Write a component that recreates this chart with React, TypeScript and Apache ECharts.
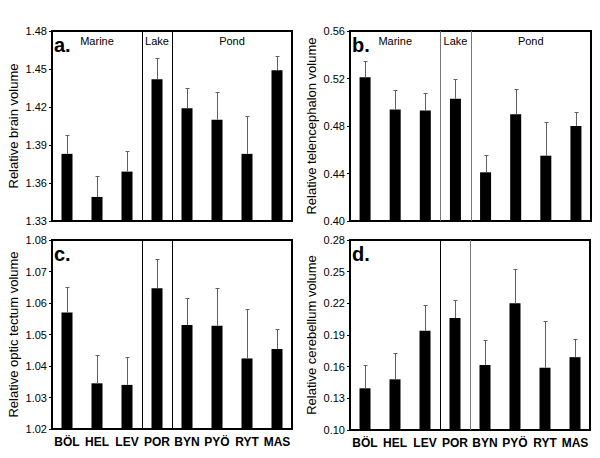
import React, { useEffect, useRef } from "react";
import * as echarts from "echarts";

const categories = ["BÖL", "HEL", "LEV", "POR", "BYN", "PYÖ", "RYT", "MAS"];

const groupNames = ["Marine", "Lake", "Pond"];
const groupStarts = [0, 3, 4];
const groupEnds = [2, 3, 7];

const brainMean = [1.383, 1.349, 1.369, 1.442, 1.419, 1.41, 1.383, 1.449];
const brainUpper = [1.398, 1.3655, 1.385, 1.459, 1.435, 1.432, 1.413, 1.46];

const teleMean = [0.521, 0.494, 0.493, 0.503, 0.441, 0.49, 0.455, 0.48];
const teleUpper = [0.535, 0.51, 0.508, 0.52, 0.456, 0.511, 0.483, 0.492];

const tectumMean = [1.057, 1.0345, 1.034, 1.0647, 1.053, 1.0528, 1.0424, 1.0454];
const tectumUpper = [1.065, 1.0435, 1.043, 1.074, 1.0616, 1.0647, 1.0582, 1.0516];

const cereMean = [0.1395, 0.148, 0.194, 0.206, 0.1616, 0.22, 0.159, 0.169];
const cereUpper = [0.162, 0.173, 0.218, 0.223, 0.185, 0.253, 0.203, 0.186];

const panelLetters = ["a.", "b.", "c.", "d."];
const panelNames = [
  "Relative brain volume",
  "Relative telencephalon volume",
  "Relative optic tectum volume",
  "Relative cerebellum volume",
];
const panelMins = [1.33, 0.4, 1.02, 0.1];
const panelMaxs = [1.48, 0.56, 1.08, 0.28];
const panelIntervals = [0.03, 0.04, 0.01, 0.03];
const panelMeans = [brainMean, teleMean, tectumMean, cereMean];
const panelUppers = [brainUpper, teleUpper, tectumUpper, cereUpper];

const FONT = "'Liberation Sans', Arial, sans-serif";

const gridLayout = [
  { left: 52, top: 31, width: 240, height: 190 },
  { left: 350, top: 31, width: 241, height: 190 },
  { left: 52, top: 240, width: 240, height: 189 },
  { left: 350, top: 240, width: 240, height: 190 },
];
const dividerColors = [
  ["#000", "#000"],
  ["#777", "#777"],
  ["#000", "#000"],
  ["#000", "#777"],
];
const showGroupLabels = [true, true, false, false];
const showCatLabels = [false, false, true, true];

export default function App() {
  const ref = useRef<HTMLDivElement>(null);
  useEffect(() => {
    if (!ref.current) return;
    const chart = echarts.init(ref.current, null, { renderer: "svg" });

    const grids: any[] = [];
    const xAxes: any[] = [];
    const yAxes: any[] = [];
    const series: any[] = [];
    const graphics: any[] = [];

    for (let i = 0; i < 4; i++) {
      const g = gridLayout[i];
      grids.push({
        ...g,
        show: true,
        borderColor: "#000",
        borderWidth: 2,
        backgroundColor: "transparent",
      });
      xAxes.push({
        type: "category",
        gridIndex: i,
        data: categories,
        axisLine: { show: false },
        axisTick: { show: false },
        axisLabel: {
          show: showCatLabels[i],
          interval: 0,
          color: "#000",
          fontFamily: FONT,
          fontSize: 12,
          fontWeight: "bold",
          margin: 7,
        },
        splitLine: { show: false },
      });
      yAxes.push({
        type: "value",
        gridIndex: i,
        min: panelMins[i],
        max: panelMaxs[i],
        interval: panelIntervals[i],
        axisLine: { show: false },
        axisTick: { show: true, length: 3, lineStyle: { color: "#000" } },
        axisLabel: {
          color: "#000",
          fontFamily: FONT,
          fontSize: 11,
          margin: 5,
          formatter: (v: number) => v.toFixed(2),
        },
        splitLine: { show: false },
        name: panelNames[i],
        nameLocation: "middle",
        nameGap: 32,
        nameTextStyle: { color: "#000", fontFamily: FONT, fontSize: 13 },
      });
      series.push({
        type: "bar",
        xAxisIndex: i,
        yAxisIndex: i,
        data: panelMeans[i],
        barWidth: 11,
        itemStyle: { color: "#000" },
        z: 2,
      });
      const means = panelMeans[i];
      const uppers = panelUppers[i];
      series.push({
        type: "custom",
        xAxisIndex: i,
        yAxisIndex: i,
        z: 3,
        data: means.map((m, k) => [k, m, uppers[k]]),
        renderItem: (params: any, api: any) => {
          const base = api.coord([api.value(0), api.value(1)]);
          const top = api.coord([api.value(0), api.value(2)]);
          const x = Math.round(base[0]) + 0.5;
          const yt = Math.round(top[1]) + 0.5;
          return {
            type: "group",
            children: [
              {
                type: "line",
                shape: { x1: x, y1: base[1], x2: x, y2: yt },
                style: { stroke: "#606060", lineWidth: 1 },
              },
              {
                type: "line",
                shape: { x1: x - 2, y1: yt, x2: x + 2, y2: yt },
                style: { stroke: "#606060", lineWidth: 1 },
              },
            ],
          };
        },
      });
      // dividers between habitat groups
      const dividerIdx = groupEnds.slice(0, groupEnds.length - 1);
      const cols = dividerColors[i];
      series.push({
        type: "custom",
        xAxisIndex: i,
        yAxisIndex: i,
        z: 4,
        silent: true,
        data: dividerIdx.map((d) => [d, panelMins[i]]),
        renderItem: (params: any, api: any) => {
          const c = api.coord([api.value(0), api.value(1)]);
          const w = api.size([1, 0])[0];
          const cs = params.coordSys;
          const x = Math.round(c[0] + w / 2) + 0.5;
          return {
            type: "line",
            shape: { x1: x, y1: cs.y, x2: x, y2: cs.y + cs.height },
            style: { stroke: cols[params.dataIndex], lineWidth: 1 },
          };
        },
      });
      if (showGroupLabels[i]) {
        series.push({
          type: "custom",
          xAxisIndex: i,
          yAxisIndex: i,
          z: 4,
          silent: true,
          data: groupStarts.map((s, k) => [s, groupEnds[k], panelMaxs[i]]),
          renderItem: (params: any, api: any) => {
            const a = api.coord([api.value(0), api.value(2)]);
            const b = api.coord([api.value(1), api.value(2)]);
            return {
              type: "text",
              x: (a[0] + b[0]) / 2,
              y: a[1] + 10,
              style: {
                text: groupNames[params.dataIndex],
                fill: "#000",
                fontFamily: FONT,
                fontSize: 11,
                align: "center",
                verticalAlign: "middle",
              },
            };
          },
        });
      }
      graphics.push({
        type: "text",
        left: g.left + 2,
        top: g.top + 4,
        style: {
          text: panelLetters[i],
          fill: "#000",
          fontFamily: FONT,
          fontSize: 20,
          fontWeight: "bold",
        },
      });
    }

    chart.setOption({
      animation: false,
      backgroundColor: "#fff",
      grid: grids,
      xAxis: xAxes,
      yAxis: yAxes,
      series,
      graphic: graphics,
    });
    return () => chart.dispose();
  }, []);

  return (
    <div
      ref={ref}
      style={{ position: "fixed", left: 0, top: 0, width: 600, height: 458 }}
    />
  );
}
